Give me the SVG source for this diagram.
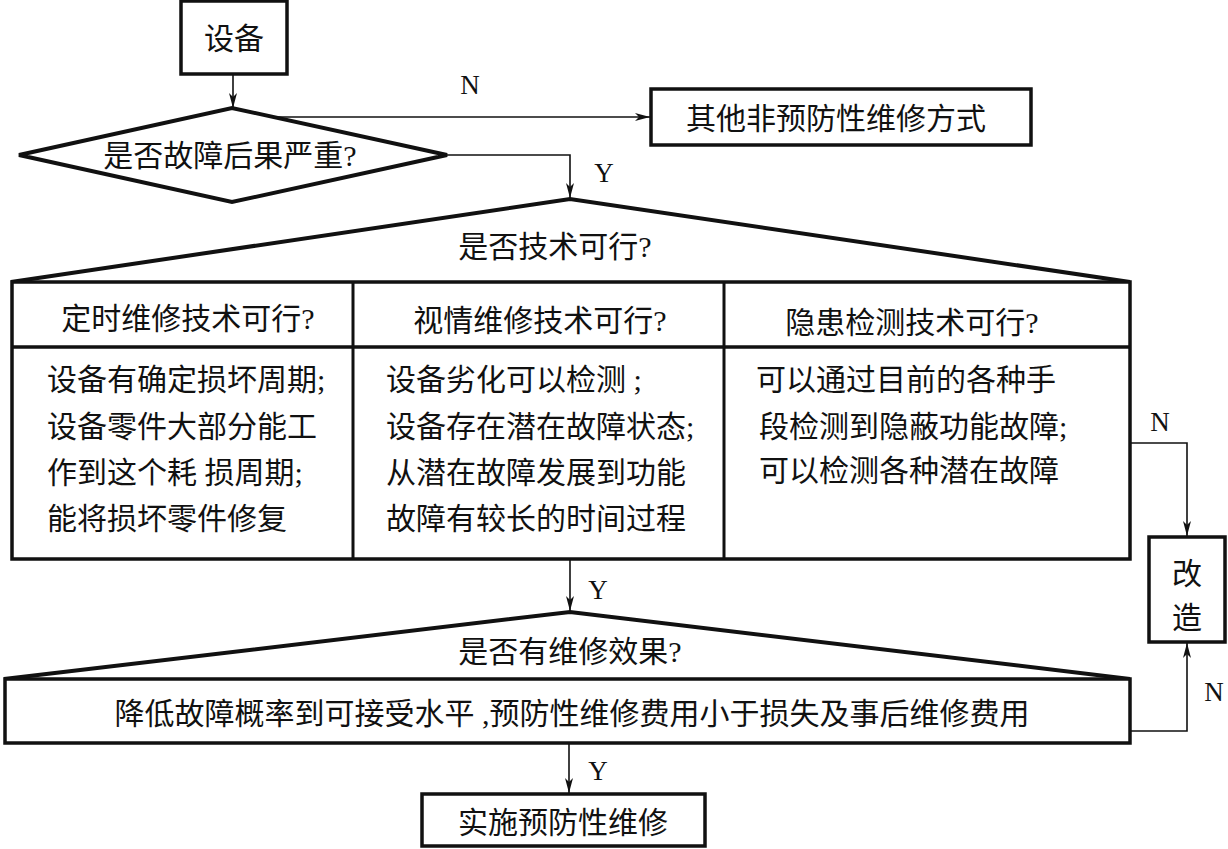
<svg xmlns="http://www.w3.org/2000/svg" width="1228" height="849" viewBox="0 0 1228 849">
<style>
.t{font-family:"Liberation Serif","Noto Sans CJK SC",serif;font-size:30px;fill:#111;dominant-baseline:central}
.c{text-anchor:middle}
.lb{font-family:"Liberation Serif",serif;font-size:27px;fill:#111;dominant-baseline:central}
.box{fill:#fff;stroke:#111;stroke-width:3.5}
.edge{fill:none;stroke:#111;stroke-width:1.6}
.thick{fill:none;stroke:#111;stroke-width:4;stroke-linejoin:miter}
</style>
<defs>
<marker id="ah" markerUnits="userSpaceOnUse" markerWidth="16" markerHeight="8" refX="15" refY="4" orient="auto">
<path d="M0,0 L15,4 L0,8 L4,4 z" fill="#111"/>
</marker>
</defs>
<rect width="1228" height="849" fill="#fff"/>
<g id="connectors">
<line class="edge" x1="233" y1="74" x2="233" y2="108" marker-end="url(#ah)"/>
<line class="edge" x1="273" y1="117" x2="650" y2="117" marker-end="url(#ah)"/>
<polyline class="edge" points="447,155 570,155 570,198" marker-end="url(#ah)"/>
<line class="edge" x1="570" y1="560" x2="570" y2="611" marker-end="url(#ah)"/>
<line class="edge" x1="569" y1="743" x2="569" y2="793" marker-end="url(#ah)"/>
<polyline class="edge" points="1130,443 1187,443 1187,536" marker-end="url(#ah)"/>
<polyline class="edge" points="1130,731 1187,731 1187,643" marker-end="url(#ah)"/>
<text class="lb" x="470" y="85" text-anchor="middle">N</text>
<text class="lb" x="604" y="173" text-anchor="middle">Y</text>
<text class="lb" x="1160" y="422" text-anchor="middle">N</text>
<text class="lb" x="598" y="590" text-anchor="middle">Y</text>
<text class="lb" x="1214" y="692" text-anchor="middle">N</text>
<text class="lb" x="598" y="771" text-anchor="middle">Y</text>
</g>
<g id="start">
<rect class="box" x="181" y="1" width="106" height="73"/>
<text class="t c" x="234" y="38">设备</text>
</g>
<g id="decision1">
<polygon class="thick" points="19,155 232,108 447,155 232,202" fill="#fff"/>
<text class="t c" x="230" y="155">是否故障后果严重?</text>
</g>
<g id="other">
<rect class="box" x="651" y="89" width="380" height="56"/>
<text class="t c" x="836" y="118">其他非预防性维修方式</text>
</g>
<g id="decision2">
<polyline class="thick" points="11,282 570,199 1130,282"/>
<text class="t c" x="555" y="246">是否技术可行?</text>
</g>
<g id="table">
<rect class="box" x="12" y="282" width="1118" height="277"/>
<line class="thick" x1="12" y1="347" x2="1130" y2="347" style="stroke-width:3.5"/>
<line class="thick" x1="353" y1="282" x2="353" y2="559" style="stroke-width:3"/>
<line class="thick" x1="724" y1="282" x2="724" y2="559" style="stroke-width:3"/>
<text class="t c" x="188" y="318">定时维修技术可行?</text>
<text class="t c" x="540" y="320">视情维修技术可行?</text>
<text class="t c" x="912" y="322">隐患检测技术可行?</text>
<text class="t" x="47" y="379">设备有确定损坏周期;</text>
<text class="t" x="47" y="426">设备零件大部分能工</text>
<text class="t" x="47" y="472">作到这个耗 损周期;</text>
<text class="t" x="47" y="518">能将损坏零件修复</text>
<text class="t" x="386" y="379">设备劣化可以检测 ;</text>
<text class="t" x="386" y="426">设备存在潜在故障状态;</text>
<text class="t" x="386" y="472">从潜在故障发展到功能</text>
<text class="t" x="386" y="518">故障有较长的时间过程</text>
<text class="t" x="756" y="379">可以通过目前的各种手</text>
<text class="t" x="759" y="426">段检测到隐蔽功能故障;</text>
<text class="t" x="759" y="470">可以检测各种潜在故障</text>
</g>
<g id="modify">
<rect class="box" x="1149" y="537" width="76" height="105"/>
<text class="t c" x="1187" y="573">改</text>
<text class="t c" x="1187" y="617">造</text>
</g>
<g id="decision3">
<polyline class="thick" points="4,679 570,612 1130,679"/>
<text class="t c" x="570" y="651">是否有维修效果?</text>
<rect class="box" x="5" y="679" width="1125" height="64"/>
<text class="t c" x="572" y="713">降低故障概率到可接受水平 ,预防性维修费用小于损失及事后维修费用</text>
</g>
<g id="implement">
<rect class="box" x="422" y="794" width="283" height="52"/>
<text class="t c" x="563" y="822">实施预防性维修</text>
</g>
</svg>
